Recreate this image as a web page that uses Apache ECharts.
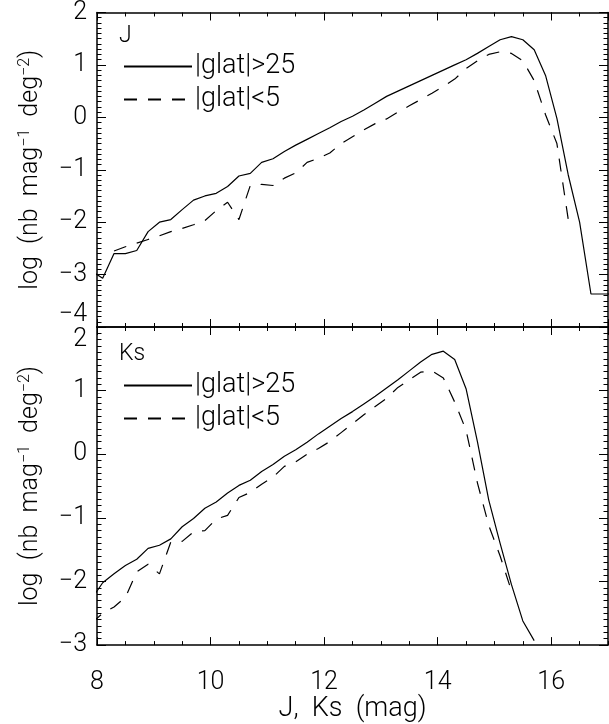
<!DOCTYPE html>
<html>
<head>
<meta charset="utf-8">
<script src="https://cdn.jsdelivr.net/npm/echarts@6/dist/echarts.min.js"></script>
<style>
  html, body { margin: 0; padding: 0; background: #fff; }
  #chart { width: 609px; height: 724px; }
</style>
</head>
<body>
<div id="chart"></div>
<script>
// legend names and panel labels
const legendNames = ["|glat|>25", "|glat|<5"];
const panelLabels = ["J", "Ks"];

// J band, |glat|>25
const jHighMag = [7.9, 8.1, 8.3, 8.5, 8.7, 8.9, 9.1, 9.3, 9.5, 9.7, 9.9, 10.1, 10.3, 10.5, 10.7, 10.9,
  11.1, 11.3, 11.5, 11.7, 11.9, 12.1, 12.3, 12.5, 12.7, 12.9, 13.1, 13.3, 13.5, 13.7, 13.9, 14.1,
  14.3, 14.5, 14.7, 14.9, 15.1, 15.3, 15.5, 15.7, 15.9, 16.1, 16.3, 16.5, 16.7, 16.9, 17.1];
const jHigh = [-2.93, -3.07, -2.6, -2.6, -2.54, -2.18, -2.0, -1.95, -1.76, -1.58, -1.5, -1.45, -1.32, -1.12, -1.07, -0.86,
  -0.79, -0.65, -0.53, -0.42, -0.31, -0.2, -0.08, 0.02, 0.14, 0.27, 0.4, 0.5, 0.6, 0.7, 0.8, 0.9,
  1.0, 1.1, 1.22, 1.35, 1.48, 1.54, 1.48, 1.29, 0.8, -0.02, -1.1, -2.0, -3.37, -3.37, -3.37];

// J band, |glat|<5
const jLowMag = [8.3, 8.5, 8.7, 8.9, 9.1, 9.3, 9.5, 9.7, 9.9, 10.1, 10.3, 10.5, 10.7, 10.9,
  11.1, 11.3, 11.5, 11.7, 11.9, 12.1, 12.3, 12.5, 12.7, 12.9, 13.1, 13.3, 13.5, 13.7, 13.9, 14.1,
  14.3, 14.5, 14.7, 14.9, 15.1, 15.3, 15.5, 15.7, 15.9, 16.1, 16.3];
const jLow = [-2.55, -2.47, -2.4, -2.33, -2.26, -2.18, -2.12, -2.05, -1.97, -1.78, -1.62, -1.95, -1.3, -1.28,
  -1.3, -1.16, -1.06, -0.86, -0.78, -0.68, -0.5, -0.37, -0.24, -0.12, -0.03, 0.1, 0.22, 0.34, 0.46, 0.59,
  0.73, 0.93, 1.08, 1.2, 1.25, 1.22, 1.08, 0.7, 0.05, -0.5, -1.95];

// Ks band, |glat|>25
const ksHighMag = [7.9, 8.1, 8.3, 8.5, 8.7, 8.9, 9.1, 9.3, 9.5, 9.7, 9.9, 10.1, 10.3, 10.5, 10.7, 10.9,
  11.1, 11.3, 11.5, 11.7, 11.9, 12.1, 12.3, 12.5, 12.7, 12.9, 13.1, 13.3, 13.5, 13.7, 13.9, 14.1,
  14.3, 14.5, 14.7, 14.9, 15.1, 15.3, 15.5, 15.7];
const ksHigh = [-2.28, -2.02, -1.88, -1.75, -1.65, -1.48, -1.43, -1.33, -1.14, -1.01, -0.85, -0.75, -0.61, -0.49, -0.41, -0.27,
  -0.16, -0.03, 0.07, 0.19, 0.32, 0.44, 0.56, 0.67, 0.79, 0.91, 1.04, 1.17, 1.31, 1.45, 1.57, 1.62,
  1.49, 1.03, 0.2, -0.72, -1.4, -2.05, -2.62, -2.93];

// Ks band, |glat|<5
const ksLowMag = [7.9, 8.1, 8.3, 8.5, 8.7, 8.9, 9.1, 9.3, 9.5, 9.7, 9.9, 10.1, 10.3, 10.5, 10.7, 10.9,
  11.1, 11.3, 11.5, 11.7, 11.9, 12.1, 12.3, 12.5, 12.7, 12.9, 13.1, 13.3, 13.5, 13.7, 13.9, 14.1,
  14.3, 14.5, 14.7, 14.9, 15.1, 15.3];
const ksLow = [-2.66, -2.5, -2.4, -2.25, -1.85, -1.73, -1.88, -1.38, -1.37, -1.22, -1.2, -1.02, -0.96, -0.68, -0.6, -0.47,
  -0.36, -0.19, -0.12, 0.0, 0.09, 0.2, 0.34, 0.48, 0.62, 0.75, 0.88, 1.05, 1.17, 1.29, 1.31, 1.2,
  0.82, 0.38, -0.45, -1.12, -1.6, -2.15];

const font = "Roboto";
const black = "#000";
const axisLine = { show: true, onZero: false, lineStyle: { color: black, width: 1.5 } };
const tickStyle = { color: black, width: 1 };
const minus = (v) => String(v).replace("-", "\u2212");
const zip = (xs, ys) => xs.map((x, i) => [x, ys[i]]);

function xAxes(gridIndex, withLabels) {
  const axes = [];
  ["bottom", "top"].forEach((pos) => {
    // minor ticks every 0.5 mag
    axes.push({
      type: "value", gridIndex, position: pos, min: 8, max: 17, interval: 0.5,
      axisLine, axisTick: { inside: true, length: 4, lineStyle: tickStyle },
      axisLabel: { show: false }, splitLine: { show: false },
    });
    // major ticks every 2 mag
    const labels = withLabels && pos === "bottom";
    axes.push({
      type: "value", gridIndex, position: pos, min: 8, max: 17, interval: 2,
      axisLine: { show: false, onZero: false },
      axisTick: { inside: true, length: 8, lineStyle: tickStyle },
      axisLabel: {
        show: labels, showMaxLabel: false, margin: 25,
        fontSize: 25, fontFamily: font, fontWeight: 300, color: black,
      },
      splitLine: { show: false },
      name: labels ? "J,  Ks  (mag)" : "",
      nameLocation: "middle", nameGap: 50,
      nameTextStyle: { fontSize: 27, fontFamily: font, fontWeight: 300, color: black },
    });
  });
  return axes;
}

function yAxes(gridIndex, min, max, isTop) {
  const common = {
    type: "value", gridIndex, min, max, interval: 1,
    axisLine,
    axisTick: { inside: true, length: 9, lineStyle: tickStyle },
    minorTick: { show: true, splitNumber: 10, length: 4.5, lineStyle: tickStyle },
    splitLine: { show: false },
  };
  return [
    Object.assign({}, common, {
      position: "left",
      axisLabel: {
        margin: 10, fontSize: 25, fontFamily: font, fontWeight: 300, color: black,
        formatter: minus,
        verticalAlignMinLabel: isTop ? "bottom" : "middle",
        verticalAlignMaxLabel: isTop ? "middle" : "top",
      },
      name: "log  (nb  mag{s|\u22121}  deg{s|\u22122})",
      nameLocation: "middle", nameRotate: 90, nameGap: 52,
      nameTextStyle: {
        fontSize: 25, fontFamily: font, fontWeight: 300, color: black,
        rich: { s: { fontSize: 16, fontFamily: font, fontWeight: 300, color: black, padding: [0, 0, 12, 0] } },
      },
    }),
    Object.assign({}, common, { position: "right", axisLabel: { show: false } }),
  ];
}

function lineSeries(name, xs, ys, xIdx, yIdx, dashed) {
  return {
    name, type: "line", xAxisIndex: xIdx, yAxisIndex: yIdx,
    data: zip(xs, ys), symbol: "none", showSymbol: false, clip: true,
    lineStyle: { color: black, width: 1.2, type: dashed ? [13, 11] : "solid" },
    itemStyle: { color: black },
  };
}

const legendCommon = {
  data: legendNames, orient: "vertical", left: 118, itemWidth: 68, itemHeight: 14, itemGap: 6,
  selectedMode: false,
  itemStyle: { color: "rgba(0,0,0,0)", borderWidth: 0, opacity: 0 },
  textStyle: { fontSize: 27, fontFamily: font, fontWeight: 300, color: black, padding: [0, 0, 0, -2] },
};

const chart = echarts.init(document.getElementById("chart"), null, { renderer: "canvas" });
chart.setOption({
  backgroundColor: "#fff",
  animation: false,
  title: panelLabels.map((t, i) => ({
    text: t, left: 114, top: i === 0 ? 20 : 338,
    textStyle: { fontSize: 23, fontFamily: font, fontWeight: 300, color: black },
  })),
  legend: [
    Object.assign({}, legendCommon, { top: 48 }),
    Object.assign({}, legendCommon, { top: 367 }),
  ],
  grid: [
    { left: 97, top: 8, width: 511, height: 319 },
    { left: 97, top: 327, width: 511, height: 319 },
  ],
  xAxis: [...xAxes(0, false), ...xAxes(1, true)],
  yAxis: [...yAxes(0, -4, 2, true), ...yAxes(1, -3, 2, false)],
  series: [
    lineSeries(legendNames[0], jHighMag, jHigh, 0, 0, false),
    lineSeries(legendNames[1], jLowMag, jLow, 0, 0, true),
    lineSeries(legendNames[0], ksHighMag, ksHigh, 4, 2, false),
    lineSeries(legendNames[1], ksLowMag, ksLow, 4, 2, true),
  ],
});
</script>
</body>
</html>
